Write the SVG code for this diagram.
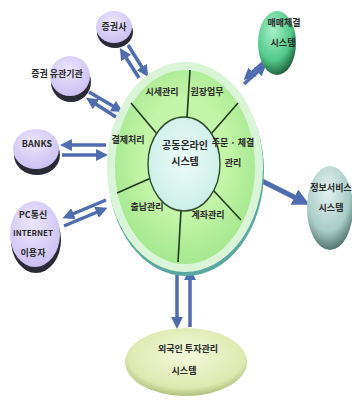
<svg xmlns="http://www.w3.org/2000/svg" width="352" height="401" viewBox="0 0 352 401">
<defs>
<style>
text{font-family:"Noto Sans CJK KR","Noto Sans",sans-serif;font-size:9px;fill:#2a2a2a;text-anchor:middle;font-weight:bold}
.arr{stroke:#4f6cae;stroke-width:3.5;fill:none;marker-end:url(#ah)}
.div{stroke:#1f3a1f;stroke-width:1.6;fill:none}
.base{fill:#2b2b38}
</style>
<marker id="ah" viewBox="0 0 10 10" refX="5" refY="5" markerWidth="3.4" markerHeight="3.4" orient="auto"><path d="M0,0 L10,5 L0,10 z" fill="#4f6cae"/></marker>
<radialGradient id="pur" cx="0.45" cy="0.35" r="0.7"><stop offset="0" stop-color="#ece6ff"/><stop offset="1" stop-color="#c9bdf0"/></radialGradient>
<radialGradient id="grn" cx="0.4" cy="0.3" r="0.8"><stop offset="0" stop-color="#a8f0c8"/><stop offset="0.6" stop-color="#50c888"/><stop offset="1" stop-color="#0e3a22"/></radialGradient>
<radialGradient id="teal" cx="0.45" cy="0.3" r="0.8"><stop offset="0" stop-color="#e4f2f0"/><stop offset="0.6" stop-color="#a8ccc6"/><stop offset="1" stop-color="#2e4e4a"/></radialGradient>
<radialGradient id="yel" cx="0.5" cy="0.4" r="0.6"><stop offset="0" stop-color="#f4f8dc"/><stop offset="0.8" stop-color="#dde9b0"/><stop offset="1" stop-color="#aebf7a"/></radialGradient>
<radialGradient id="disk" cx="0.5" cy="0.45" r="0.6"><stop offset="0.5" stop-color="#c4f4a8"/><stop offset="1" stop-color="#9ee68a"/></radialGradient>
<radialGradient id="core" cx="0.5" cy="0.45" r="0.6"><stop offset="0" stop-color="#eefbf8"/><stop offset="1" stop-color="#c8eee6"/></radialGradient>
</defs>

<g id="connectors">
<line class="arr" x1="139" y1="78" x2="123" y2="53"/>
<line class="arr" x1="128" y1="45" x2="145" y2="72"/>
<line class="arr" x1="116" y1="117" x2="91" y2="101"/>
<line class="arr" x1="89" y1="92" x2="118" y2="109"/>
<line class="arr" x1="106" y1="145" x2="66" y2="145"/>
<line class="arr" x1="62" y1="155" x2="102" y2="155"/>
<line class="arr" x1="106" y1="200" x2="68" y2="216"/>
<line class="arr" x1="64" y1="226" x2="102" y2="210"/>
<line class="arr" x1="244" y1="84" x2="262" y2="68"/>
<line class="arr" x1="266" y1="60" x2="248" y2="76"/>
<line class="arr" x1="262" y1="181" x2="302" y2="201" style="stroke-width:5"/>
<line class="arr" x1="177" y1="270" x2="177" y2="323"/>
<line class="arr" x1="190" y1="327" x2="190" y2="274"/>
</g>

<g id="n_securities">
<ellipse class="base" cx="115" cy="32" rx="18" ry="16"/>
<ellipse cx="114" cy="27" rx="18" ry="16" fill="url(#pur)"/>
<text x="114" y="30">증권사</text>
</g>

<g id="n_related">
<ellipse class="base" cx="71" cy="82" rx="20" ry="20"/>
<ellipse cx="70" cy="76" rx="20" ry="20" fill="url(#pur)"/>
<text x="57" y="77">증권 유관기관</text>
</g>

<g id="n_banks">
<ellipse class="base" cx="37" cy="155" rx="23" ry="20"/>
<ellipse cx="36" cy="149" rx="23" ry="20" fill="url(#pur)"/>
<text x="37" y="147">BANKS</text>
</g>

<g id="n_pc">
<ellipse class="base" cx="36" cy="240" rx="25" ry="33"/>
<ellipse cx="35" cy="234" rx="25" ry="33" fill="url(#pur)"/>
<text x="33" y="218">PC통신</text>
<text x="33" y="236" style="font-size:8px">INTERNET</text>
<text x="33" y="256">이용자</text>
</g>

<g id="n_trade">
<ellipse cx="277" cy="43" rx="19" ry="32" fill="url(#grn)"/>
<text x="284" y="26">매매체결</text>
<text x="283" y="46">시스템</text>
</g>

<g id="n_info">
<ellipse cx="330" cy="208" rx="23" ry="42" fill="url(#teal)"/>
<text x="331" y="191">정보서비스</text>
<text x="331" y="211">시스템</text>
</g>

<g id="n_foreign">
<ellipse cx="186" cy="362" rx="61" ry="34" fill="url(#yel)"/>
<text x="188" y="352">외국인 투자관리</text>
<text x="184" y="374">시스템</text>
</g>

<g id="n_core">
<ellipse cx="186" cy="171" rx="78" ry="105" fill="#5aa8a0"/>
<ellipse cx="185" cy="167" rx="78" ry="105" fill="#daf4d8"/>
<ellipse cx="185" cy="167" rx="70" ry="97" fill="url(#disk)"/>
<line class="div" x1="187" y1="118" x2="190" y2="70"/>
<line class="div" x1="157" y1="134" x2="131" y2="103"/>
<line class="div" x1="151" y1="178" x2="117" y2="193"/>
<line class="div" x1="181" y1="210" x2="178" y2="262"/>
<line class="div" x1="213" y1="190" x2="241" y2="220"/>
<line class="div" x1="211" y1="134" x2="238" y2="103"/>
<ellipse cx="184" cy="164" rx="36" ry="47" fill="url(#core)" stroke="#2f4a2f" stroke-width="1.4"/>
<text x="185" y="149" style="font-size:10px">공동온라인</text>
<text x="185" y="165" style="font-size:10px">시스템</text>
<text x="162" y="95">시세관리</text>
<text x="207" y="95">원장업무</text>
<text x="128" y="143">결제처리</text>
<text x="233" y="146">주문 · 체결</text>
<text x="233" y="166">관리</text>
<text x="147" y="210">출납관리</text>
<text x="208" y="218">계좌관리</text>
</g>
</svg>
